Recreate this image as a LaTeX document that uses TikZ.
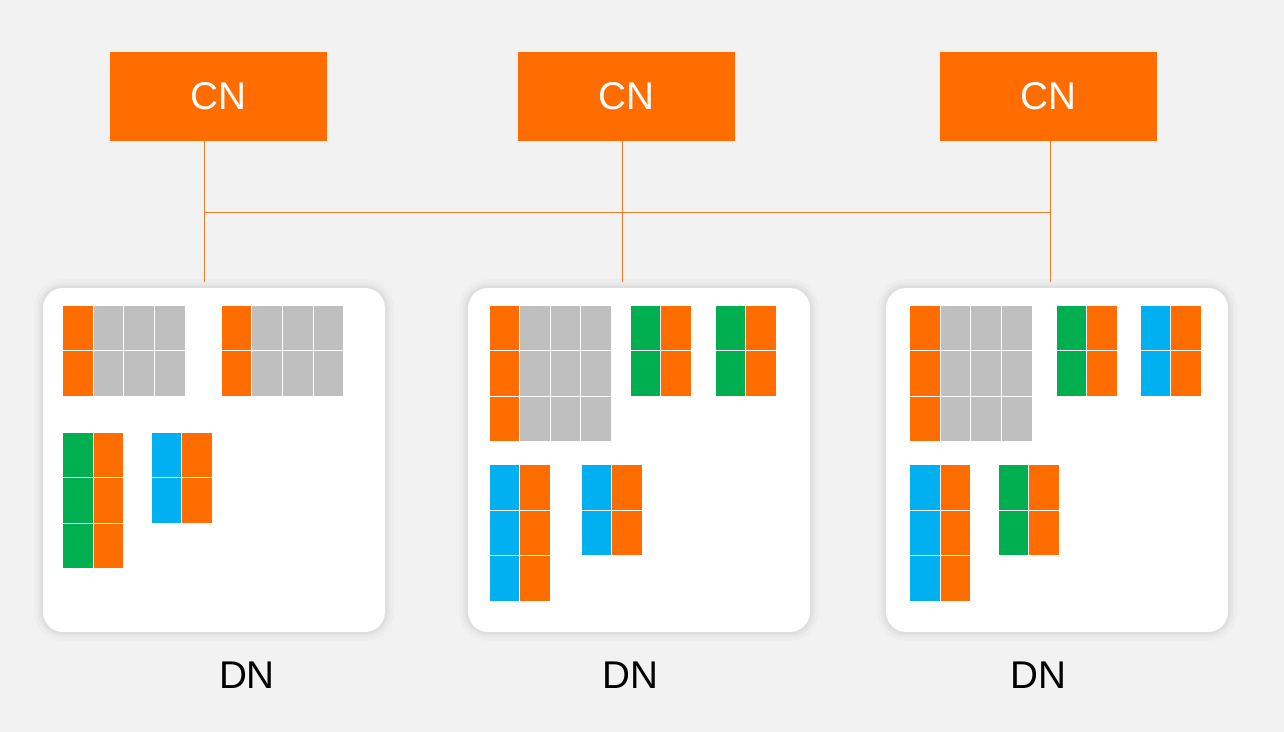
\documentclass[tikz,border=0pt]{standalone}
\usepackage{fontspec}
\setmainfont{Liberation Sans}
\usepackage{xcolor}
\definecolor{cn-orange}{HTML}{FF6D00}
\definecolor{link-orange}{HTML}{EE7A2A}
\definecolor{shard-grey}{HTML}{BFBFBF}
\definecolor{shard-green}{HTML}{00B050}
\definecolor{shard-blue}{HTML}{00B0F0}
\definecolor{canvas}{HTML}{F2F2F2}

% one block of shards: left, top, column colours, rows
\newcommand{\shardgrid}[4]{%
  \foreach \col [count=\i from 0] in {#3} {
    \foreach \j in {1,...,#4} {
      \fill[\col, draw=white, line width=0.6pt]
        (#1+\i*30.6, #2+\j*45.6-45.6) rectangle ++(30.6,45.6);
    }
  }%
}

\begin{document}
\begin{tikzpicture}[x=0.02cm, y=-0.02cm,
    every node/.style={font=\fontsize{22}{26}\selectfont},
    cnbox/.style={fill=cn-orange, text=white, inner sep=0pt,
      minimum width=4.34cm, minimum height=1.78cm},
    dnbox/.style={fill=white, rounded corners=0.4cm,
      minimum width=6.84cm, minimum height=6.88cm,
      preaction={draw=black, opacity=0.02, line width=10pt},
      preaction={draw=black, opacity=0.025, line width=6pt},
      preaction={draw=black, opacity=0.03, line width=3pt}},
    link/.style={draw=link-orange, line width=0.6pt}]
  \useasboundingbox (0,0) rectangle (1284,732);
  \fill[canvas] (0,0) rectangle (1284,732);

  \node[cnbox] (cn1) at (218.5,96.5) {CN};
  \node[cnbox] (cn2) at (626.5,96.5) {CN};
  \node[cnbox] (cn3) at (1048.5,96.5) {CN};

  \node[dnbox] (dn1) at (214,460) {};
  \node[dnbox] (dn2) at (639,460) {};
  \node[dnbox] (dn3) at (1057,460) {};

  \node (lbl1) at (247,675) {DN};
  \node (lbl2) at (630,675) {DN};
  \node (lbl3) at (1038.5,675) {DN};

  % links
  \coordinate (tap1) at (204.3,212.3);
  \coordinate (tap2) at (622.3,212.3);
  \coordinate (tap3) at (1050.7,212.3);
  \coordinate (foot1) at (204.3,281.7);
  \coordinate (foot2) at (622.3,281.7);
  \coordinate (foot3) at (1050.7,281.7);
  \draw[link] (cn1.south -| foot1) -- (foot1);
  \draw[link] (cn2.south -| foot2) -- (foot2);
  \draw[link] (cn3.south -| foot3) -- (foot3);
  \draw[link] (tap1) -- (tap3);

  % shards on dn1
  \shardgrid{62.7}{305}{cn-orange,shard-grey,shard-grey,shard-grey}{2}
  \shardgrid{221.3}{305}{cn-orange,shard-grey,shard-grey,shard-grey}{2}
  \shardgrid{62.7}{432}{shard-green,cn-orange}{3}
  \shardgrid{151.3}{432}{shard-blue,cn-orange}{2}
  % shards on dn2
  \shardgrid{489}{305}{cn-orange,shard-grey,shard-grey,shard-grey}{3}
  \shardgrid{630.3}{305}{shard-green,cn-orange}{2}
  \shardgrid{715}{305}{shard-green,cn-orange}{2}
  \shardgrid{489}{464.7}{shard-blue,cn-orange}{3}
  \shardgrid{581.3}{464.7}{shard-blue,cn-orange}{2}
  % shards on dn3
  \shardgrid{909.7}{305}{cn-orange,shard-grey,shard-grey,shard-grey}{3}
  \shardgrid{1056}{305}{shard-green,cn-orange}{2}
  \shardgrid{1140.3}{305}{shard-blue,cn-orange}{2}
  \shardgrid{909.7}{464.7}{shard-blue,cn-orange}{3}
  \shardgrid{998.3}{464.7}{shard-green,cn-orange}{2}
\end{tikzpicture}
\end{document}
